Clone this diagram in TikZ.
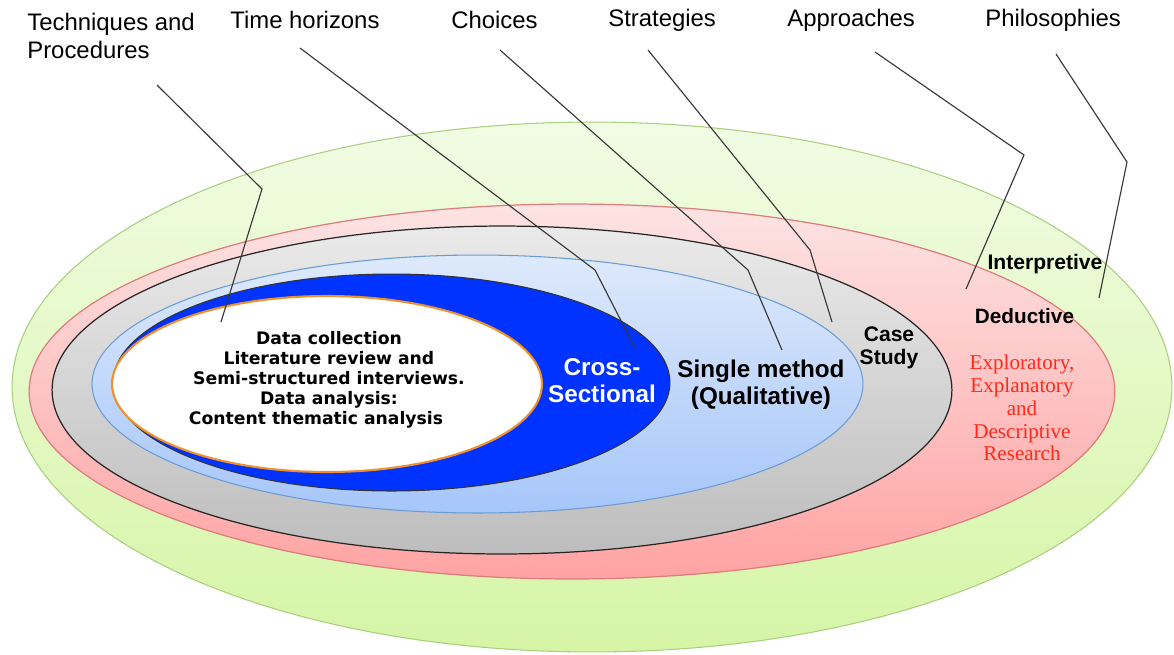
\documentclass[tikz,border=0pt]{standalone}
\usepackage{fontspec}
\setmainfont{Liberation Sans}
\newfontfamily\verd{DejaVu Sans}
\newfontfamily\tms{Liberation Serif}
\usetikzlibrary{shapes.geometric}
\definecolor{gfill1}{HTML}{F1FCE4}
\definecolor{gfill2}{HTML}{D6F5A6}
\definecolor{gline}{HTML}{A9CF7F}
\definecolor{pfill1}{HTML}{FDE3E3}
\definecolor{pfill2}{HTML}{FFA3A3}
\definecolor{pline}{HTML}{DE7C7C}
\definecolor{kfill1}{HTML}{EAEAEA}
\definecolor{kfill2}{HTML}{BDBDBD}
\definecolor{bfill1}{HTML}{DEE9FB}
\definecolor{bfill2}{HTML}{A6C6FA}
\definecolor{bline}{HTML}{6A9BD6}
\definecolor{dblue}{HTML}{0033FF}
\definecolor{orng}{HTML}{F0902C}
\definecolor{leader}{HTML}{383838}
\definecolor{redtxt}{HTML}{FF2A1A}
\begin{document}
\begin{tikzpicture}[x=0.02cm,y=-0.02cm,
  ring/.style={ellipse, inner sep=0pt, outer sep=0pt},
  toplabel/.style={anchor=west, inner sep=0pt, font=\fontsize{13.6}{15.9}\selectfont, align=left},
  leaderline/.style={draw=leader, line width=0.65pt},
  boldarial/.style={font=\bfseries\fontsize{13.8}{15.3}\selectfont, align=center, inner sep=0pt}]
\useasboundingbox (0,0) rectangle (1174,654);
% rings
\node[ring, minimum width=23.2cm, minimum height=10.6cm, draw=gline, line width=0.6pt, top color=gfill1, bottom color=gfill2] (green) at (592,387) {};
\node[ring, minimum width=21.72cm, minimum height=7.5cm, draw=pline, line width=0.7pt, top color=pfill1, bottom color=pfill2] (pink) at (572,391.5) {};
\node[ring, minimum width=18cm, minimum height=6.56cm, draw=black!85, line width=0.7pt, top color=kfill1, bottom color=kfill2] (gray) at (502,390) {};
\node[ring, minimum width=15.42cm, minimum height=5.16cm, draw=bline, line width=0.6pt, top color=bfill1, bottom color=bfill2] (lblue) at (477.5,384) {};
\node[ring, minimum width=11.14cm, minimum height=4.34cm, draw=black!80, line width=0.6pt, fill=dblue] (dblue) at (391.5,382.5) {};
\node[ring, minimum width=8.6cm, minimum height=3.52cm, draw=orng, line width=1.2pt, fill=white] (white) at (327,384) {};
% leader coordinates
\coordinate (t1) at (157,85);  \coordinate (t2) at (262,189);  \coordinate (t3) at (221,322);
\coordinate (h1) at (300,48);  \coordinate (h2) at (595,270);  \coordinate (h3) at (635,348);
\coordinate (c1) at (500,50);  \coordinate (c2) at (748,270);  \coordinate (c3) at (782,350);
\coordinate (s1) at (648,50);  \coordinate (s2) at (810,250);  \coordinate (s3) at (832,322);
\coordinate (a1) at (875,52);  \coordinate (a2) at (1024,155); \coordinate (a3) at (966,289);
\coordinate (p1) at (1056,54); \coordinate (p2) at (1127,162); \coordinate (p3) at (1099,298);
\draw[leaderline] (t1) -- (t2) -- (t3);
\draw[leaderline] (h1) -- (h2) -- (h3);
\draw[leaderline] (c1) -- (c2) -- (c3);
\draw[leaderline] (s1) -- (s2) -- (s3);
\draw[leaderline] (a1) -- (a2) -- (a3);
\draw[leaderline] (p1) -- (p2) -- (p3);
% top labels
\node[toplabel] (ltech) at (27,36) {Techniques and\\Procedures};
\node[toplabel] (ltime) at (230,20) {Time horizons};
\node[toplabel] (lchoi) at (451,20) {Choices};
\node[toplabel] (lstra) at (608,20) {Strategies};
\node[toplabel] (lappr) at (787,20) {Approaches};
\node[toplabel] (lphil) at (985,20) {Philosophies};
% inner texts
\node[font=\verd\bfseries\fontsize{9.8}{11.3}\selectfont, align=center, inner sep=0pt] (tdata) at (329,380) {Data collection\\Literature review and\\Semi-structured interviews.\\Data analysis:\\Content thematic analysis\hspace*{0.52cm}};
\node[boldarial, text=white] (tcross) at (602,380.5) {Cross-\\Sectional};
\node[boldarial] (tsingle) at (761,384.5) {Single method\\(Qualitative)};
\node[boldarial, font=\bfseries\fontsize{12}{13}\selectfont] (tcase) at (889,347.5) {Case\\Study};
\node[boldarial, font=\bfseries\fontsize{12}{13}\selectfont] (tinterp) at (1045,264) {Interpretive};
\node[boldarial, font=\bfseries\fontsize{11.8}{13}\selectfont] (tdeduc) at (1024.5,316) {Deductive};
\node[font=\tms\fontsize{12}{13}\selectfont, text=redtxt, align=center, inner sep=0pt] (tred) at (1022,408) {Exploratory,\\Explanatory\\and\\Descriptive\\Research};
\end{tikzpicture}
\end{document}
